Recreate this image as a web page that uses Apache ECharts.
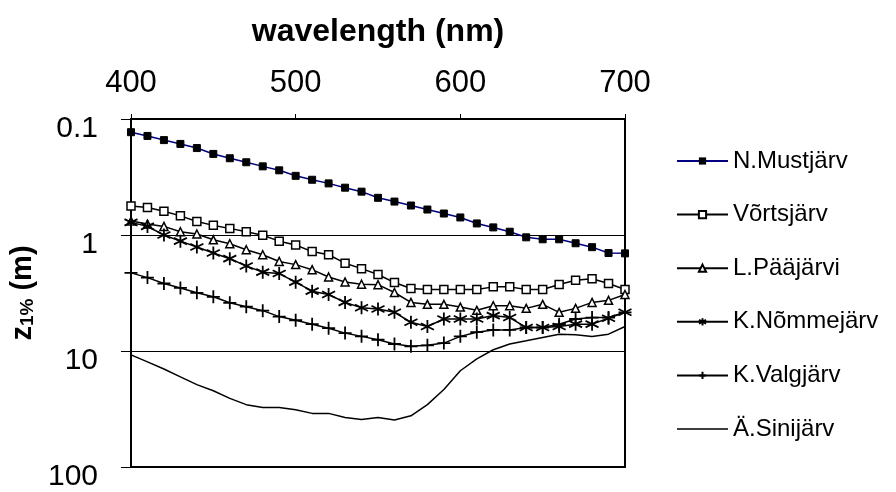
<!DOCTYPE html>
<html>
<head>
<meta charset="utf-8">
<script src="https://cdn.jsdelivr.net/npm/echarts@6/dist/echarts.min.js"></script>
<style>html,body{margin:0;padding:0;background:#fff;}#c{width:896px;height:492px;}</style>
</head>
<body>
<div id="c"></div>
<script>
const wavelengths = [400,410,420,430,440,450,460,470,480,490,500,510,520,530,540,550,560,570,580,590,600,610,620,630,640,650,660,670,680,690,700];
const xTicks = [400, 500, 600, 700];
const yTicks = [0.1, 1, 10, 100];
const seriesNames = ['N.Mustjärv','Võrtsjärv','L.Pääjärvi','K.Nõmmejärv','K.Valgjärv','Ä.Sinijärv'];

const nMustjarv = [0.130,0.140,0.152,0.164,0.178,0.200,0.218,0.236,0.256,0.277,0.309,0.334,0.359,0.391,0.423,0.478,0.515,0.557,0.603,0.653,0.706,0.795,0.860,0.937,1.047,1.089,1.089,1.178,1.273,1.43,1.44];
const vortsjarv = [0.562,0.580,0.624,0.684,0.764,0.826,0.877,0.937,1.006,1.13,1.22,1.39,1.48,1.75,1.95,2.19,2.57,2.89,2.95,2.95,2.95,2.95,2.80,2.80,2.95,2.95,2.67,2.46,2.38,2.62,2.95];
const lPaajarvi = [0.759,0.805,0.843,0.937,0.981,1.10,1.19,1.34,1.48,1.69,1.80,1.99,2.30,2.54,2.66,2.68,3.13,3.81,3.96,3.96,4.18,4.46,4.07,4.07,4.29,3.96,4.64,4.29,3.81,3.66,3.26];
const kNommejarv = [0.778,0.843,1.0,1.13,1.27,1.43,1.60,1.85,2.09,2.15,2.55,3.05,3.26,3.81,4.24,4.35,4.64,5.65,6.15,5.30,5.30,5.30,4.95,5.15,6.27,6.27,6.15,5.87,5.87,5.22,4.64];
const kValgjarv = [2.12,2.33,2.62,2.86,3.15,3.41,3.84,4.15,4.49,5.05,5.43,5.87,6.36,7.01,7.48,8.00,8.70,9.11,8.93,8.55,7.48,6.88,6.58,6.58,6.27,6.27,5.87,5.30,5.15,5.15,4.64];
const aSinijarv = [10.8,12.4,14.3,16.7,19.5,22.0,25.6,29.0,30.7,30.7,32.1,34.5,34.5,37.4,38.9,37.4,39.4,36.2,29.0,21.5,14.8,11.7,9.75,8.70,8.16,7.64,7.16,7.26,7.49,7.16,6.15];

const FONT = '"Liberation Sans", Arial, sans-serif';
const pair = arr => wavelengths.map((w, i) => [w, arr[i]]);
const asterisk = 'path://M5 0 L5 10 M0.7 2.5 L9.3 7.5 M0.7 7.5 L9.3 2.5';
const plus = 'path://M5 0 L5 10 M0 5 L10 5';
const plainLineIcon = 'path://M0 0 L0.01 0 M0 3.75 L51 3.75 L51 5.25 L0 5.25 Z M51 9 L50.99 9';

const chart = echarts.init(document.getElementById('c'), null, {renderer: 'canvas'});
chart.setOption({
  animation: false,
  backgroundColor: '#fff',
  textStyle: {fontFamily: FONT},
  grid: {left: 128, right: 271, top: 119, bottom: 22, show: true, borderColor: '#000', borderWidth: 2, backgroundColor: 'transparent'},
  xAxis: {
    type: 'value', position: 'top', min: 400, max: 700, interval: 100,
    name: 'wavelength (nm)', nameLocation: 'middle', nameGap: 71,
    nameTextStyle: {fontSize: 32, fontWeight: 'bold', color: '#000', fontFamily: FONT},
    axisLine: {show: true, lineStyle: {color: '#000', width: 1.5}},
    axisTick: {show: true, inside: false, length: 5, lineStyle: {color: '#000', width: 1}},
    axisLabel: {fontSize: 31, color: '#000', margin: 20, fontFamily: FONT,
      formatter: v => xTicks.includes(v) ? String(v) : ''},
    splitLine: {show: false}
  },
  yAxis: {
    type: 'log', logBase: 10, min: 0.1, max: 100, inverse: true,
    name: '{a|z}{b|1%}{a| (m)}', nameLocation: 'middle', nameGap: 94, nameRotate: 90,
    nameTextStyle: {color: '#000', fontFamily: FONT,
      rich: {
        a: {fontSize: 29, fontWeight: 'bold', color: '#000', fontFamily: FONT},
        b: {fontSize: 19, fontWeight: 'bold', color: '#000', fontFamily: FONT, padding: [10, 0, 0, 0]}
      }},
    axisLine: {show: true, lineStyle: {color: '#000', width: 2}},
    axisTick: {show: true, inside: false, length: 10, lineStyle: {color: '#000', width: 1}},
    axisLabel: {fontSize: 30, color: '#000', margin: 33, fontFamily: FONT, verticalAlign: 'top', lineHeight: 20,
      formatter: v => {const r = yTicks.find(t => Math.abs(t - v) / t < 1e-6); return r !== undefined ? String(r) : '';}},
    splitLine: {show: true, lineStyle: {color: '#000', width: 1}},
    minorTick: {show: false}
  },
  legend: {
    orient: 'vertical', left: 676, top: 144, padding: 0,
    itemWidth: 51, itemHeight: 9, itemGap: 19.6,
    textStyle: {fontSize: 24, color: '#000', fontFamily: FONT, lineHeight: 26, padding: [8, 0, 0, 0]},
    data: [seriesNames[0], seriesNames[1], seriesNames[2], seriesNames[3], seriesNames[4],
      {name: seriesNames[5], icon: plainLineIcon}]
  },
  series: [
    {name: seriesNames[0], type: 'line', data: pair(nMustjarv), symbol: 'rect', symbolSize: 7,
      lineStyle: {color: '#000080', width: 1.5}, itemStyle: {color: '#000', borderColor: '#000'}},
    {name: seriesNames[1], type: 'line', data: pair(vortsjarv), symbol: 'rect', symbolSize: 8,
      lineStyle: {color: '#000', width: 1.5}, itemStyle: {color: '#fff', borderColor: '#000', borderWidth: 1.5}},
    {name: seriesNames[2], type: 'line', data: pair(lPaajarvi), symbol: 'triangle', symbolSize: 8,
      lineStyle: {color: '#000', width: 1.5}, itemStyle: {color: '#fff', borderColor: '#000', borderWidth: 1.5}},
    {name: seriesNames[3], type: 'line', data: pair(kNommejarv), symbol: asterisk, symbolSize: 13,
      lineStyle: {color: '#000', width: 1.5}, itemStyle: {color: '#000', borderColor: '#000', borderWidth: 1.8}},
    {name: seriesNames[4], type: 'line', data: pair(kValgjarv), symbol: plus, symbolSize: 13,
      lineStyle: {color: '#000', width: 1.5}, itemStyle: {color: '#000', borderColor: '#000', borderWidth: 1.8}},
    {name: seriesNames[5], type: 'line', data: pair(aSinijarv), symbol: 'none',
      lineStyle: {color: '#000', width: 1.5}, itemStyle: {color: '#000'}}
  ]
});
</script>
</body>
</html>
